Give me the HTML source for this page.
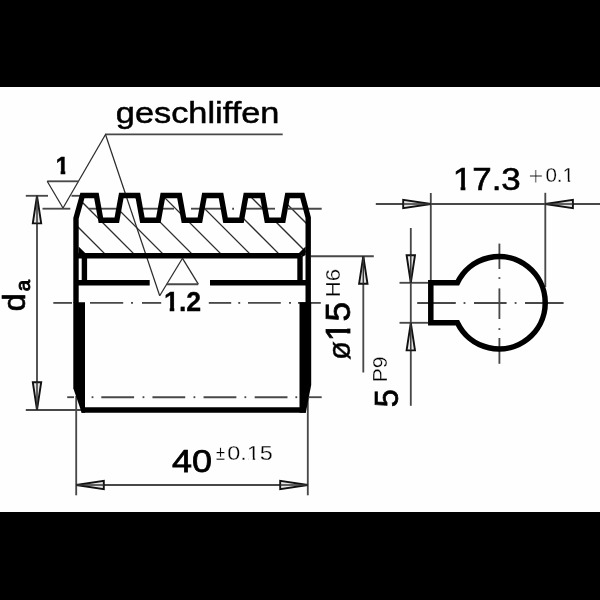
<!DOCTYPE html>
<html><head><meta charset="utf-8"><title>Zeichnung</title>
<style>
html,body{margin:0;padding:0;background:#000;}
body{width:600px;height:600px;overflow:hidden;}
svg{display:block;will-change:transform;font-family:"Liberation Sans",sans-serif;}
</style></head>
<body>
<svg width="600" height="600" viewBox="0 0 600 600">
<rect x="0" y="0" width="600" height="600" fill="#000"/>
<rect x="0" y="87" width="600" height="425" fill="#fefefe"/>
<defs><clipPath id="sec"><polygon points="76.00,255.70 76.00,218.30 82.40,195.50 96.40,195.50 100.90,220.30 116.80,220.30 121.30,195.50 137.90,195.50 142.40,220.30 158.35,220.30 162.85,195.50 179.45,195.50 183.95,220.30 199.90,220.30 204.40,195.50 221.00,195.50 225.50,220.30 241.45,220.30 245.95,195.50 262.55,195.50 267.05,220.30 283.00,220.30 287.50,195.50 302.30,195.50 308.20,217.50 308.20,255.70"/></clipPath></defs>
<g clip-path="url(#sec)">
<line x1="36" y1="185" x2="116" y2="265" stroke="#2c2c2c" stroke-width="1.25" />
<line x1="65" y1="185" x2="145" y2="265" stroke="#2c2c2c" stroke-width="1.25" />
<line x1="94" y1="185" x2="174" y2="265" stroke="#2c2c2c" stroke-width="1.25" />
<line x1="123" y1="185" x2="203" y2="265" stroke="#2c2c2c" stroke-width="1.25" />
<line x1="152" y1="185" x2="232" y2="265" stroke="#2c2c2c" stroke-width="1.25" />
<line x1="181" y1="185" x2="261" y2="265" stroke="#2c2c2c" stroke-width="1.25" />
<line x1="210" y1="185" x2="290" y2="265" stroke="#2c2c2c" stroke-width="1.25" />
<line x1="239" y1="185" x2="319" y2="265" stroke="#2c2c2c" stroke-width="1.25" />
<line x1="268" y1="185" x2="348" y2="265" stroke="#2c2c2c" stroke-width="1.25" />
</g>
<line x1="42.5" y1="208.7" x2="70.3" y2="208.7" stroke="#484848" stroke-width="1.85" />
<line x1="89" y1="208.7" x2="117.5" y2="208.7" stroke="#484848" stroke-width="1.85" />
<line x1="142" y1="208.7" x2="174" y2="208.7" stroke="#484848" stroke-width="1.85" />
<line x1="191" y1="208.7" x2="221.5" y2="208.7" stroke="#484848" stroke-width="1.85" />
<line x1="232.2" y1="208.7" x2="234" y2="208.7" stroke="#484848" stroke-width="1.85" />
<line x1="243.5" y1="208.7" x2="275" y2="208.7" stroke="#484848" stroke-width="1.85" />
<line x1="288" y1="208.7" x2="321.7" y2="208.7" stroke="#484848" stroke-width="1.85" />
<line x1="53.3" y1="302.9" x2="72" y2="302.9" stroke="#484848" stroke-width="1.85" />
<line x1="90" y1="302.9" x2="123.2" y2="302.9" stroke="#484848" stroke-width="1.85" />
<line x1="131" y1="302.9" x2="133" y2="302.9" stroke="#484848" stroke-width="1.85" />
<line x1="142" y1="302.9" x2="161.2" y2="302.9" stroke="#484848" stroke-width="1.85" />
<line x1="208.8" y1="302.9" x2="231.2" y2="302.9" stroke="#484848" stroke-width="1.85" />
<line x1="238.3" y1="302.9" x2="240.2" y2="302.9" stroke="#484848" stroke-width="1.85" />
<line x1="248" y1="302.9" x2="280.8" y2="302.9" stroke="#484848" stroke-width="1.85" />
<line x1="289" y1="302.9" x2="291" y2="302.9" stroke="#484848" stroke-width="1.85" />
<line x1="298" y1="302.9" x2="320.8" y2="302.9" stroke="#484848" stroke-width="1.85" />
<line x1="67.2" y1="397.2" x2="74" y2="397.2" stroke="#484848" stroke-width="1.85" />
<line x1="101.3" y1="397.2" x2="134.1" y2="397.2" stroke="#484848" stroke-width="1.85" />
<line x1="152.43" y1="397.2" x2="185.23" y2="397.2" stroke="#484848" stroke-width="1.85" />
<line x1="203.56" y1="397.2" x2="236.36" y2="397.2" stroke="#484848" stroke-width="1.85" />
<line x1="254.69" y1="397.2" x2="287.49" y2="397.2" stroke="#484848" stroke-width="1.85" />
<line x1="91.6" y1="397.2" x2="93.4" y2="397.2" stroke="#484848" stroke-width="1.85" />
<line x1="142.55" y1="397.2" x2="144.35000000000002" y2="397.2" stroke="#484848" stroke-width="1.85" />
<line x1="193.5" y1="397.2" x2="195.3" y2="397.2" stroke="#484848" stroke-width="1.85" />
<line x1="244.45000000000002" y1="397.2" x2="246.25000000000003" y2="397.2" stroke="#484848" stroke-width="1.85" />
<line x1="295.4" y1="397.2" x2="297.20000000000005" y2="397.2" stroke="#484848" stroke-width="1.85" />
<line x1="309" y1="397.2" x2="321.7" y2="397.2" stroke="#484848" stroke-width="1.85" />
<line x1="105" y1="134.3" x2="282.7" y2="134.3" stroke="#484848" stroke-width="1.85" />
<line x1="105.5" y1="134.5" x2="63" y2="208" stroke="#2c2c2c" stroke-width="1.25" />
<line x1="47.2" y1="181.3" x2="78.7" y2="181.3" stroke="#484848" stroke-width="1.85" />
<line x1="47.2" y1="181.3" x2="63" y2="208" stroke="#2c2c2c" stroke-width="1.25" />
<line x1="105.5" y1="134.5" x2="159.7" y2="295.8" stroke="#2c2c2c" stroke-width="1.25" />
<line x1="159.7" y1="295.8" x2="182.5" y2="258.3" stroke="#2c2c2c" stroke-width="1.25" />
<line x1="182.5" y1="258.3" x2="198.3" y2="284.2" stroke="#2c2c2c" stroke-width="1.25" />
<line x1="166.7" y1="284.2" x2="198.3" y2="284.2" stroke="#484848" stroke-width="1.85" />
<line x1="37.0" y1="195.8" x2="37.0" y2="409.8" stroke="#484848" stroke-width="1.85" />
<line x1="25.8" y1="195.8" x2="48" y2="195.8" stroke="#484848" stroke-width="1.85" />
<line x1="71.5" y1="195.8" x2="80" y2="195.8" stroke="#484848" stroke-width="1.85" />
<line x1="25.8" y1="410" x2="81" y2="410" stroke="#484848" stroke-width="1.85" />
<polygon points="37.0,195.8 41.20,223.40 32.80,223.40" fill="#e6e6e6" stroke="#111" stroke-width="1.9" stroke-linejoin="miter"/><line x1="37.0" y1="195.8" x2="37.0" y2="223.4" stroke="#333" stroke-width="1.5"/>
<polygon points="37.0,409.8 32.80,382.20 41.20,382.20" fill="#e6e6e6" stroke="#111" stroke-width="1.9" stroke-linejoin="miter"/><line x1="37.0" y1="409.8" x2="37.0" y2="382.2" stroke="#333" stroke-width="1.5"/>
<line x1="76.2" y1="396" x2="76.2" y2="495.3" stroke="#484848" stroke-width="1.85" />
<line x1="307.8" y1="398" x2="307.8" y2="495.3" stroke="#484848" stroke-width="1.85" />
<line x1="76.2" y1="485" x2="307.8" y2="485" stroke="#484848" stroke-width="1.85" />
<polygon points="76.2,485 103.80,480.80 103.80,489.20" fill="#e6e6e6" stroke="#111" stroke-width="1.9" stroke-linejoin="miter"/><line x1="76.2" y1="485" x2="103.80000000000001" y2="485.0" stroke="#333" stroke-width="1.5"/>
<polygon points="307.8,485 280.20,489.20 280.20,480.80" fill="#e6e6e6" stroke="#111" stroke-width="1.9" stroke-linejoin="miter"/><line x1="307.8" y1="485" x2="280.2" y2="485.0" stroke="#333" stroke-width="1.5"/>
<line x1="311" y1="256.2" x2="373.8" y2="256.2" stroke="#484848" stroke-width="1.85" />
<line x1="363.3" y1="256.2" x2="363.3" y2="372.5" stroke="#484848" stroke-width="1.85" />
<polygon points="363.3,256.2 367.50,283.80 359.10,283.80" fill="#e6e6e6" stroke="#111" stroke-width="1.9" stroke-linejoin="miter"/><line x1="363.3" y1="256.2" x2="363.3" y2="283.8" stroke="#333" stroke-width="1.5"/>
<line x1="410.8" y1="228" x2="410.8" y2="405.8" stroke="#484848" stroke-width="1.85" />
<line x1="399.5" y1="282.8" x2="428" y2="282.8" stroke="#484848" stroke-width="1.85" />
<line x1="399.5" y1="322.8" x2="428" y2="322.8" stroke="#484848" stroke-width="1.85" />
<polygon points="410.8,282.8 406.60,255.20 415.00,255.20" fill="#e6e6e6" stroke="#111" stroke-width="1.9" stroke-linejoin="miter"/><line x1="410.8" y1="282.8" x2="410.8" y2="255.20000000000002" stroke="#333" stroke-width="1.5"/>
<polygon points="410.8,322.8 415.00,350.40 406.60,350.40" fill="#e6e6e6" stroke="#111" stroke-width="1.9" stroke-linejoin="miter"/><line x1="410.8" y1="322.8" x2="410.8" y2="350.40000000000003" stroke="#333" stroke-width="1.5"/>
<line x1="375.8" y1="204" x2="600" y2="204" stroke="#484848" stroke-width="1.85" />
<line x1="430.8" y1="193" x2="430.8" y2="281" stroke="#484848" stroke-width="1.85" />
<line x1="545.3" y1="192.8" x2="545.3" y2="287" stroke="#484848" stroke-width="1.85" />
<polygon points="430.8,204 403.20,208.20 403.20,199.80" fill="#e6e6e6" stroke="#111" stroke-width="1.9" stroke-linejoin="miter"/><line x1="430.8" y1="204" x2="403.2" y2="204.0" stroke="#333" stroke-width="1.5"/>
<polygon points="545.3,204 572.90,199.80 572.90,208.20" fill="#e6e6e6" stroke="#111" stroke-width="1.9" stroke-linejoin="miter"/><line x1="545.3" y1="204" x2="572.9" y2="204.0" stroke="#333" stroke-width="1.5"/>
<line x1="417.2" y1="303" x2="455.8" y2="303" stroke="#484848" stroke-width="1.85" />
<line x1="463.6" y1="303" x2="465.4" y2="303" stroke="#484848" stroke-width="1.85" />
<line x1="474" y1="303" x2="506.6" y2="303" stroke="#484848" stroke-width="1.85" />
<line x1="514.7" y1="303" x2="516.5" y2="303" stroke="#484848" stroke-width="1.85" />
<line x1="525" y1="303" x2="563.6" y2="303" stroke="#484848" stroke-width="1.85" />
<line x1="499.4" y1="243.6" x2="499.4" y2="269" stroke="#484848" stroke-width="1.85" />
<line x1="499.4" y1="277.2" x2="499.4" y2="278.9" stroke="#484848" stroke-width="1.85" />
<line x1="499.4" y1="288.4" x2="499.4" y2="319" stroke="#484848" stroke-width="1.85" />
<line x1="499.4" y1="328.2" x2="499.4" y2="329.9" stroke="#484848" stroke-width="1.85" />
<line x1="499.4" y1="338" x2="499.4" y2="363.8" stroke="#484848" stroke-width="1.85" />
<path d="M76.00,303.00 L76.00,218.30 L82.40,195.50 L96.40,195.50 L100.90,220.30 L116.80,220.30 L121.30,195.50 L137.90,195.50 L142.40,220.30 L158.35,220.30 L162.85,195.50 L179.45,195.50 L183.95,220.30 L199.90,220.30 L204.40,195.50 L221.00,195.50 L225.50,220.30 L241.45,220.30 L245.95,195.50 L262.55,195.50 L267.05,220.30 L283.00,220.30 L287.50,195.50 L302.30,195.50 L308.20,217.50 L308.20,303.00" fill="none" stroke="#000" stroke-width="5.4" stroke-linejoin="miter" stroke-miterlimit="10"/>
<line x1="76" y1="255.7" x2="301" y2="255.7" stroke="#000" stroke-width="5.4" />
<line x1="76" y1="282.7" x2="149.7" y2="282.7" stroke="#000" stroke-width="5.4" />
<line x1="210" y1="282.7" x2="308.2" y2="282.7" stroke="#000" stroke-width="5.4" />
<line x1="84.4" y1="255.7" x2="84.4" y2="282.7" stroke="#000" stroke-width="5.4" />
<line x1="300" y1="255.7" x2="300" y2="282.7" stroke="#000" stroke-width="5.4" />
<polygon points="78.6,246.5 85.5,253.2 78.6,256" fill="#000"/>
<polygon points="305.6,246.5 298.7,253.2 302.6,256.8 305.6,255" fill="#000"/>
<polygon points="73.3,302.3 85,302.3 85,412.8 81.7,412.8 73.3,388.3" fill="#000"/>
<polygon points="299.5,302.3 311.2,302.3 311.2,385 305.8,412.8 299.5,412.8" fill="#000"/>
<line x1="81.5" y1="410" x2="305.8" y2="410" stroke="#000" stroke-width="5.6" />
<path d="M457.4,282.7 L430.8,282.7 L430.8,322.8 L457.4,322.8 A46.2,46.2 0 1 0 457.4,282.7 Z" fill="none" stroke="#000" stroke-width="5.5" stroke-linejoin="miter"/>
<text x="115.8" y="123.2" font-size="29.8" font-weight="normal" textLength="163.6" lengthAdjust="spacingAndGlyphs" stroke="#000" stroke-width="0.5" fill="#000" text-anchor="start">geschliffen</text>
<text x="55.7" y="173.9" font-size="24.4" font-weight="bold" textLength="12.9" lengthAdjust="spacingAndGlyphs" stroke="#000" stroke-width="0.5" fill="#000" text-anchor="start">1</text>
<text x="164.0" y="311.3" font-size="27" font-weight="bold" textLength="37.2" lengthAdjust="spacingAndGlyphs" stroke="#000" stroke-width="0.3" fill="#000" text-anchor="start">1.2</text>
<text x="171.9" y="471.8" font-size="32.2" font-weight="normal" textLength="40" lengthAdjust="spacingAndGlyphs" stroke="#000" stroke-width="0.75" fill="#000" text-anchor="start">40</text>
<text x="216.0" y="460.2" font-size="20.4" font-weight="normal"  stroke="#fefefe" stroke-width="0.28" fill="#000" text-anchor="start"><tspan textLength="9" lengthAdjust="spacingAndGlyphs">±</tspan><tspan dx="2.2" textLength="45.6" lengthAdjust="spacingAndGlyphs">0.15</tspan></text>
<text x="452.8" y="190.4" font-size="31.9" font-weight="normal" textLength="68.0" lengthAdjust="spacingAndGlyphs" stroke="#000" stroke-width="0.6" fill="#000" text-anchor="start">17.3</text>
<text x="528.0" y="182" font-size="20.6" font-weight="normal"  stroke="#fefefe" stroke-width="0.28" fill="#000" text-anchor="start"><tspan font-size="27" dy="2.9" stroke-width="1.1">+</tspan><tspan dy="-2.9" dx="1.6">0.1</tspan></text>
<text transform="translate(24.5,311.3) rotate(-90)" font-size="32" font-weight="normal"  stroke="#000" stroke-width="0.65" fill="#000" text-anchor="start">d</text>
<text transform="translate(30.0,291.3) rotate(-90)" font-size="19.5" font-weight="normal" textLength="11.4" lengthAdjust="spacingAndGlyphs" stroke="#000" stroke-width="0.9" fill="#000" text-anchor="start">a</text>
<text transform="translate(350.4,360.1) rotate(-90)" font-size="35.2" font-weight="normal"  stroke="#000" stroke-width="0.8" fill="#000" text-anchor="start"><tspan stroke-width="0.4" font-size="31">ø</tspan>15</text>
<text transform="translate(339.7,297.2) rotate(-90)" font-size="20.6" font-weight="normal" textLength="28.4" lengthAdjust="spacingAndGlyphs" stroke="#fefefe" stroke-width="0.28" fill="#000" text-anchor="start">H6</text>
<text transform="translate(398.0,407.3) rotate(-90)" font-size="32.6" font-weight="normal"  stroke="#000" stroke-width="0.7" fill="#000" text-anchor="start">5</text>
<text transform="translate(387,382.3) rotate(-90)" font-size="21" font-weight="normal" textLength="25.8" lengthAdjust="spacingAndGlyphs" stroke="#fefefe" stroke-width="0.28" fill="#000" text-anchor="start">P9</text>
<rect x="55.5" y="170.6" width="5.10" height="4.60" fill="#fefefe"/>
<rect x="65.3" y="170.6" width="4.20" height="4.60" fill="#fefefe"/>
<rect x="454" y="186.6" width="6.60" height="4.90" fill="#fefefe"/>
<rect x="465.4" y="186.6" width="6.10" height="4.90" fill="#fefefe"/>
<rect x="248.5" y="457.4" width="4.20" height="3.20" fill="#fefefe"/>
<rect x="255.2" y="457.4" width="3.70" height="3.20" fill="#fefefe"/>
<rect x="563.5" y="179.4" width="4.20" height="3.20" fill="#fefefe"/>
<rect x="570.2" y="179.4" width="3.00" height="3.20" fill="#fefefe"/>
<rect x="346.3" y="322" width="5.30" height="6.60" fill="#fefefe"/>
<rect x="346.3" y="333.4" width="5.30" height="5.60" fill="#fefefe"/>
<rect x="164" y="307.4" width="5.70" height="4.60" fill="#fefefe"/>
<rect x="174.3" y="307.4" width="4.90" height="4.60" fill="#fefefe"/>
</svg>
</body></html>
